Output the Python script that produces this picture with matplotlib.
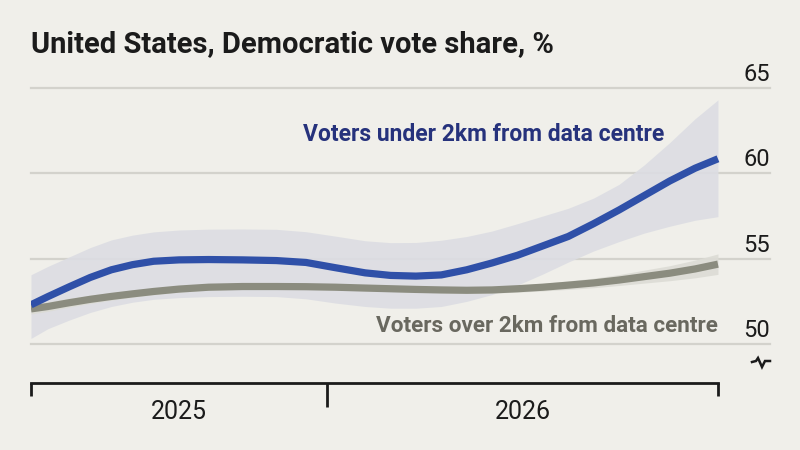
import matplotlib
matplotlib.use("Agg")
import matplotlib.pyplot as plt
from matplotlib import font_manager
from matplotlib.lines import Line2D

# ---------------- data ----------------
months = [0, 0.4, 0.9, 1.4, 1.9, 2.4, 2.9, 3.5, 4.2, 5.0,
          5.8, 6.5, 7.2, 7.9, 8.5, 9.1, 9.7, 10.3, 10.9, 11.5,
          12.1, 12.7, 13.3, 13.9, 14.5, 15.1, 15.7, 16.24]

under_2km = [52.3, 52.78, 53.35, 53.9, 54.35, 54.65, 54.85, 54.93, 54.95, 54.93,
             54.89, 54.78, 54.47, 54.17, 54.02, 53.98, 54.05, 54.35, 54.75, 55.2,
             55.75, 56.3, 57.05, 57.85, 58.7, 59.55, 60.3, 60.85]
under_hi = [54.06, 54.55, 55.1, 55.65, 56.1, 56.38, 56.57, 56.68, 56.73, 56.74,
            56.72, 56.58, 56.32, 56.05, 55.94, 55.95, 56.08, 56.3, 56.62, 57.05,
            57.5, 57.95, 58.55, 59.35, 60.5, 61.8, 63.2, 64.3]
under_lo = [50.33, 50.9, 51.4, 51.85, 52.2, 52.45, 52.62, 52.72, 52.78, 52.8,
            52.78, 52.65, 52.4, 52.2, 52.1, 52.1, 52.2, 52.5, 52.9, 53.45,
            54.1, 54.8, 55.45, 56.0, 56.5, 56.9, 57.25, 57.46]

over_2km = [52.06, 52.2, 52.42, 52.62, 52.79, 52.94, 53.08, 53.22, 53.33, 53.37,
            53.37, 53.36, 53.33, 53.28, 53.24, 53.2, 53.17, 53.15, 53.17, 53.24,
            53.33, 53.45, 53.58, 53.75, 53.95, 54.15, 54.4, 54.68]
over_lo = [51.76, 51.92, 52.16, 52.38, 52.57, 52.74, 52.89, 53.04, 53.16, 53.21,
           53.21, 53.2, 53.17, 53.12, 53.08, 53.04, 53.0, 52.97, 52.98, 53.04,
           53.11, 53.2, 53.3, 53.43, 53.57, 53.71, 53.88, 54.08]
over_hi = [52.36, 52.48, 52.68, 52.86, 53.01, 53.14, 53.27, 53.4, 53.5, 53.53,
           53.53, 53.52, 53.49, 53.44, 53.4, 53.36, 53.34, 53.33, 53.36, 53.44,
           53.55, 53.7, 53.86, 54.07, 54.33, 54.59, 54.92, 55.28]

year_bounds = [0, 7, 16.24]
year_labels = ["2025", "2026"]
y_ticks = [50, 55, 60, 65]

title = "United States, Democratic vote share, %"
label_under = "Voters under 2km from data centre"
label_over = "Voters over 2km from data centre"

# ---------------- fonts ----------------
names = {f.name for f in font_manager.fontManager.ttflist}
cond = "Liberation Sans Narrow" if "Liberation Sans Narrow" in names else "Roboto"
num_font = "Roboto" if "Roboto" in names else "DejaVu Sans"

BG = "#f0efea"
BLUE = "#2f50a8"
BLUE_TXT = "#26327c"
BAND = "#dcdde3"
GRAY = "#8b8c7f"
GRAY_BAND = "#dcdcd5"
GRAY_TXT = "#69685f"
GRID = "#d3d2cc"
INK = "#1b1b1b"

fig = plt.figure(figsize=(8, 4.5), dpi=100, facecolor=BG)
ax = fig.add_axes([31 / 800, (450 - 383) / 450, (770 - 31) / 800, (383 - 70) / 450])
ax.set_facecolor(BG)
ax.set_xlim(0, 17.47)
ax.set_ylim(47.72, 66.05)

for v in y_ticks:
    ax.axhline(v, color=GRID, lw=1.6, zorder=1, clip_on=False)
    ax.annotate(str(v), xy=(1.0, v), xycoords=("axes fraction", "data"),
                xytext=(0, 5), textcoords="offset points", ha="right", va="baseline",
                fontsize=17, family=num_font, color=INK)

ax.fill_between(months, under_lo, under_hi, color=BAND, alpha=0.9, lw=0, zorder=2)
ax.fill_between(months, over_lo, over_hi, color=GRAY_BAND, alpha=0.9, lw=0, zorder=3)
ax.plot(months, over_2km, color=GRAY, lw=5.2, zorder=4, solid_capstyle="butt",
        solid_joinstyle="round")
ax.plot(months, under_2km, color=BLUE, lw=5.2, zorder=5, solid_capstyle="butt",
        solid_joinstyle="round")

# axis
for s in ["top", "right", "left"]:
    ax.spines[s].set_visible(False)
ax.spines["bottom"].set_bounds(year_bounds[0], year_bounds[-1])
ax.spines["bottom"].set_linewidth(2)
ax.spines["bottom"].set_color(INK)
ax.set_yticks([])
ax.set_xticks([year_bounds[0], year_bounds[-1]])
ax.set_xticks([year_bounds[1]], minor=True)
ax.set_xticklabels([])
ax.tick_params(axis="x", which="major", length=9.5, width=2, color=INK)
ax.tick_params(axis="x", which="minor", length=17.5, width=2, color=INK)

tr = matplotlib.transforms.blended_transform_factory(ax.transData, ax.transAxes)
for i, lab in enumerate(year_labels):
    ax.text((year_bounds[i] + year_bounds[i + 1]) / 2, -0.093, lab, transform=tr,
            ha="center", va="center", fontsize=18, family=num_font, color=INK)

# labels
ax.text(10.7, 61.9, label_under, ha="center", va="baseline", fontsize=16.5,
        family=cond, weight="bold", color=BLUE_TXT, zorder=6)
ax.text(16.24, 50.7, label_over, ha="right", va="baseline", fontsize=16.2,
        family=cond, weight="bold", color=GRAY_TXT, zorder=6)

fig.text(31 / 800, 1 - 52 / 450, title, ha="left", va="baseline", fontsize=21,
         family=cond, weight="bold", color=INK)

# axis break mark
pts = [(752, 362), (756, 361), (758, 358), (762, 367), (765, 361), (770, 361)]
fig.add_artist(Line2D([p[0] / 800 for p in pts], [1 - p[1] / 450 for p in pts],
                      transform=fig.transFigure, color=INK, lw=1.8,
                      solid_joinstyle="miter"))

fig.savefig("out.png", dpi=100, facecolor=BG)
